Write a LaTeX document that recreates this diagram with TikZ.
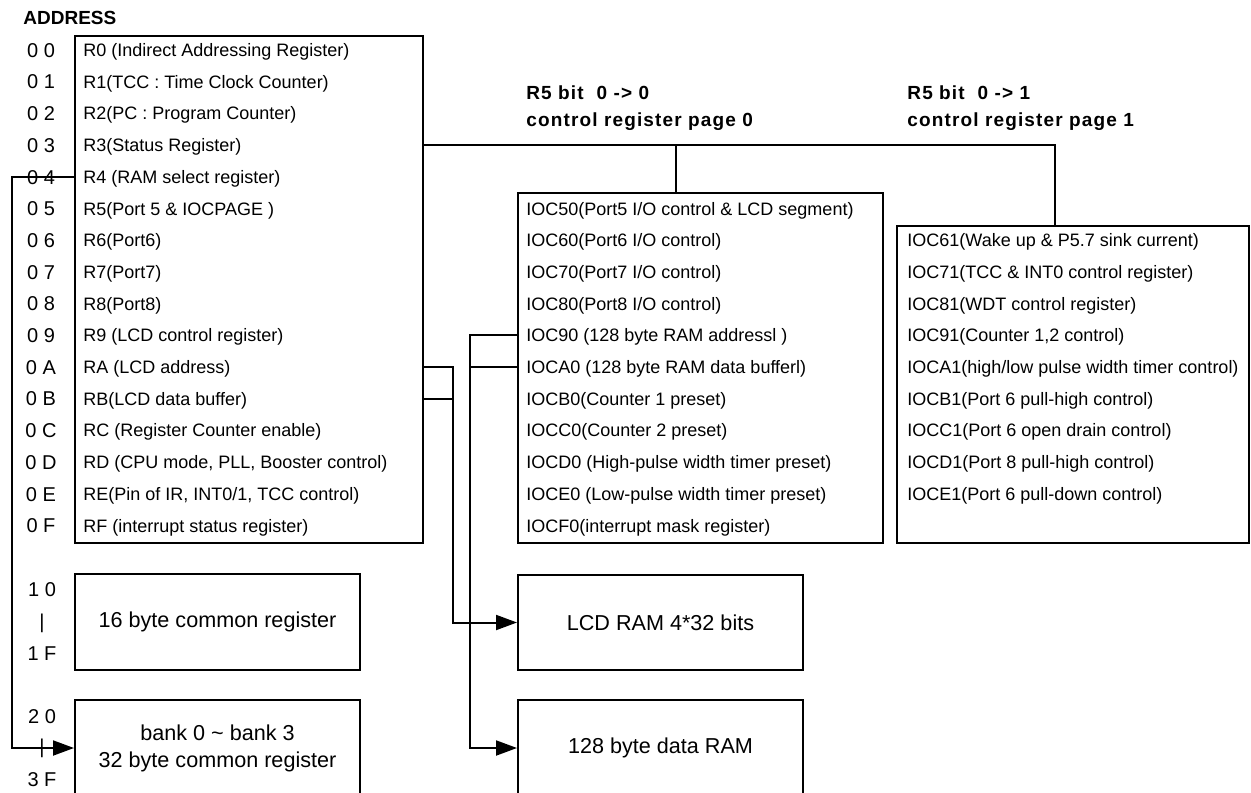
\documentclass[tikz,border=0pt]{standalone}
\usepackage{fontspec}
\setmainfont{Liberation Sans}
\newfontfamily\headfont[LetterSpace=6]{Liberation Sans}
\usetikzlibrary{arrows.meta}
\begin{document}
\begin{tikzpicture}[x=0.5pt,y=-0.5pt,
  wire/.style={line width=1pt},
  feed/.style={wire,-{Triangle[length=10.5pt,width=7.5pt]}},
  regbox/.style={draw,line width=1pt,anchor=north west,inner sep=0pt},
  rowtxt/.style={anchor=west,inner sep=0pt,text height=6.5pt,text depth=0pt,font=\fontsize{9}{10}\selectfont},
  addr/.style={inner sep=0pt,text height=7.2pt,text depth=0pt,font=\fontsize{10}{12}\selectfont},
  memtxt/.style={font=\fontsize{10.8}{13.5}\selectfont,align=center},
  head/.style={anchor=west,inner sep=0pt,text height=6.8pt,text depth=0pt,font=\headfont\bfseries\fontsize{9.5}{11}\selectfont}]
\useasboundingbox (0,0) rectangle (1251,792);
\clip (0,0) rectangle (1251,792);

% register file and the two I/O control pages
\node[regbox,minimum width=174pt,minimum height=253.5pt] (rbox) at (74,35) {};
\node[regbox,minimum width=182.5pt,minimum height=175pt] (p0box) at (517,192) {};
\node[regbox,minimum width=176pt,minimum height=158.5pt] (p1box) at (896,225) {};

% memory blocks
\node[regbox,memtxt,minimum width=142.5pt,minimum height=48pt] (com16) at (74,573) {16 byte common register};
\node[regbox,memtxt,minimum width=142.5pt,minimum height=48pt] (bank) at (74,699) {bank 0 \textasciitilde{} bank 3\\32 byte common register};
\node[regbox,memtxt,minimum width=142.5pt,minimum height=47.5pt] (lcd) at (517,574) {LCD RAM 4*32 bits};
\node[regbox,memtxt,minimum width=142.5pt,minimum height=48pt] (ram) at (517,699) {128 byte data RAM};

% headings
\node[inner sep=0pt,anchor=west,text height=6.8pt,text depth=0pt,font=\bfseries\fontsize{9.5}{11}\selectfont] (title) at (23,18) {ADDRESS};
\node[head] (h0a) at (526,93) {R5 bit\ \ 0 -> 0};
\node[head] (h0b) at (526,120) {control register page 0};
\node[head] (h1a) at (907,93) {R5 bit\ \ 0 -> 1};
\node[head] (h1b) at (907,120) {control register page 1};

% addresses
\foreach \n/\t [count=\i from 0] in {a0/0 0,a1/0 1,a2/0 2,a3/0 3,a4/0 4,a5/0 5,a6/0 6,a7/0 7,
  a8/0 8,a9/0 9,aa/0 A,ab/0 B,ac/0 C,ad/0 D,ae/0 E,af/0 F}
  \node[addr] (\n) at (41,50+31.7*\i) {\t};
\node[addr] (a10) at (42,589) {1 0};
\node[inner sep=0pt,font=\fontsize{10}{12}\selectfont] (s10) at (42,623) {|};
\node[addr] (a1f) at (42,653) {1 F};
\node[addr] (a20) at (42,716) {2 0};
\node[addr] (a3f) at (42,779) {3 F};

% registers R0..RF
\foreach \n/\t [count=\i from 0] in {
  r0/{R0 (Indirect Addressing Register)},
  r1/{R1(TCC : Time Clock Counter)},
  r2/{R2(PC : Program Counter)},
  r3/{R3(Status Register)},
  r4/{R4 (RAM select register)},
  r5/{R5(Port 5 \& IOCPAGE )},
  r6/{R6(Port6)},
  r7/{R7(Port7)},
  r8/{R8(Port8)},
  r9/{R9 (LCD control register)},
  ra/{RA (LCD address)},
  rb/{RB(LCD data buffer)},
  rc/{RC (Register Counter enable)},
  rd/{RD (CPU mode, PLL, Booster control)},
  re/{RE(Pin of IR, INT0/1, TCC control)},
  rf/{RF (interrupt status register)}}
  \node[rowtxt] (\n) at (83,50+31.7*\i) {\t};

% control page 0
\foreach \n/\t [count=\i from 5] in {
  i50/{IOC50(Port5 I/O control \& LCD segment)},
  i60/{IOC60(Port6 I/O control)},
  i70/{IOC70(Port7 I/O control)},
  i80/{IOC80(Port8 I/O control)},
  i90/{IOC90 (128 byte RAM addressl )},
  ia0/{IOCA0 (128 byte RAM data bufferl)},
  ib0/{IOCB0(Counter 1 preset)},
  ic0/{IOCC0(Counter 2 preset)},
  id0/{IOCD0 (High-pulse width timer preset)},
  ie0/{IOCE0 (Low-pulse width timer preset)},
  if0/{IOCF0(interrupt mask register)}}
  \node[rowtxt] (\n) at (526,50+31.7*\i) {\t};

% control page 1
\foreach \n/\t [count=\i from 6] in {
  i61/{IOC61(Wake up \& P5.7 sink current)},
  i71/{IOC71(TCC \& INT0 control register)},
  i81/{IOC81(WDT control register)},
  i91/{IOC91(Counter 1,2 control)},
  ia1/{IOCA1(high/low pulse width timer control)},
  ib1/{IOCB1(Port 6 pull-high control)},
  ic1/{IOCC1(Port 6 open drain control)},
  id1/{IOCD1(Port 8 pull-high control)},
  ie1/{IOCE1(Port 6 pull-down control)}}
  \node[rowtxt] (\n) at (907,50+31.7*\i) {\t};

% bend points of the wiring
\coordinate (jL) at (12,0);
\coordinate (jA) at (453,0);
\coordinate (jB) at (470,0);
\coordinate (j0) at (676,0);
\coordinate (j1) at (1055,0);

% R5 page select: R3 row bus to both pages
\draw[wire] (rbox.east |- r3) -- (j1 |- r3) -- (j1 |- p1box.north);
\draw[wire] (j0 |- r3) -- (j0 |- p0box.north);

% R4 bank select
\draw[feed] (rbox.west |- r4) -- (jL |- r4) |- (bank.west);

% RA/RB to LCD RAM
\draw[wire] (rbox.east |- rb) -- (jA |- rb);
\draw[feed] (rbox.east |- ra) -- (jA |- ra) |- (lcd.west);

% IOC90/IOCA0 to data RAM
\draw[wire] (p0box.west |- ia0) -- (jB |- ia0);
\draw[feed] (p0box.west |- i90) -- (jB |- i90) |- (ram.west);

% separator tick between 20 and 3F
\node[inner sep=0pt,font=\fontsize{10}{12}\selectfont] (s20) at (42,748) {|};
\end{tikzpicture}
\end{document}
